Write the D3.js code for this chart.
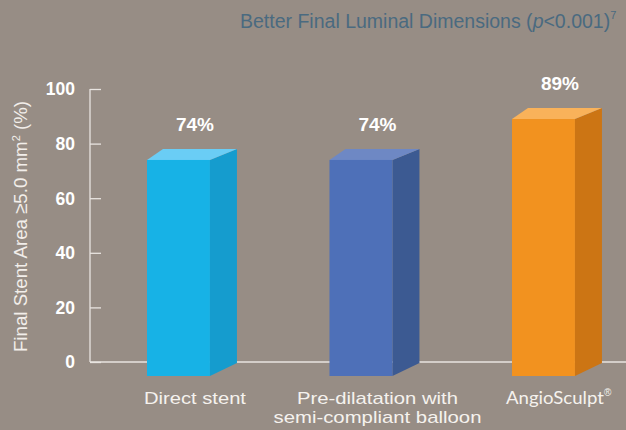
<!DOCTYPE html>
<html>
<head>
<meta charset="utf-8">
<script src="https://cdn.jsdelivr.net/npm/d3@7"></script>
<style>
  body { margin: 0; background: #978d85; }
  svg { display: block; font-family: "Liberation Sans", Arial, sans-serif; }
</style>
</head>
<body>
<svg width="626" height="430"></svg>
<script>
// chart data
var categories = ["Direct stent", "Pre-dilatation with\nsemi-compliant balloon", "AngioSculpt"];
var values = [74, 74, 89];
var valueLabels = ["74%", "74%", "89%"];
var yTicks = [0, 20, 40, 60, 80, 100];

var frontColors = ["#17b2e6", "#4e70b8", "#f2921f"];
var sideColors = ["#159cce", "#3c5a92", "#cc7514"];
var topColors = ["#6acdf5", "#6e88c4", "#f9b25a"];

// widths of the category label lines in the original artwork
var catLineWidths = [[102], [161, 208], [98]];

var svg = d3.select("svg");

var y = d3.scaleLinear().domain([0, 100]).range([362, 89]);
var x = d3.scaleBand().domain(d3.range(categories.length))
  .range([55.75, 666.2]).paddingInner(0.655).paddingOuter(0.5);

// title
var title = svg.append("text")
  .attr("x", 240).attr("y", 28)
  .attr("fill", "#4a6a80")
  .style("font-size", "19.5px");
title.append("tspan").text("Better Final Luminal Dimensions (");
title.append("tspan").style("font-style", "italic").text("p");
title.append("tspan").text("<0.001)");
title.append("tspan").attr("dy", -9).style("font-size", "11px").text("7");

// y axis
var axis = svg.append("g")
  .attr("transform", "translate(90,0)")
  .call(d3.axisRight(y).tickValues(yTicks).tickSize(11).tickFormat(""));
axis.select(".domain").remove();
axis.selectAll(".tick line").attr("stroke", "#e8e4e0").attr("stroke-width", 1.3);

svg.append("line")
  .attr("x1", 90).attr("x2", 90).attr("y1", y(100)).attr("y2", y(0))
  .attr("stroke", "#e8e4e0").attr("stroke-width", 1.3);
svg.append("line")
  .attr("x1", 90).attr("x2", 626).attr("y1", y(0)).attr("y2", y(0))
  .attr("stroke", "#e8e4e0").attr("stroke-width", 1.3);

svg.selectAll(".ytick").data(yTicks).enter().append("text")
  .attr("x", 75).attr("y", d => y(d)).attr("dy", "0.36em")
  .attr("text-anchor", "end")
  .attr("fill", "#ffffff").style("font-weight", "bold").style("font-size", "17.5px")
  .text(d => d);

// y title
var yt = svg.append("text")
  .attr("transform", "translate(27," + (y(50) + 1) + ") rotate(-90)")
  .attr("text-anchor", "middle")
  .attr("fill", "#f2eeea").style("font-size", "18.7px");
yt.append("tspan").text("Final Stent Area ≥5.0 mm");
yt.append("tspan").attr("dy", -7).style("font-size", "11px").text("2");
yt.append("tspan").attr("dy", 7).text(" (%)");

// bars (3D)
var depthX = 27, depthY = 11, backInset = 16, below = 14;
var bars = svg.selectAll(".bar").data(values).enter().append("g").attr("class", "bar");

bars.append("path")
  .attr("fill", (d, i) => sideColors[i])
  .attr("d", function(d, i) {
    var r = x(i) + x.bandwidth();
    return "M" + r + "," + y(d) + "L" + (r + depthX) + "," + (y(d) - depthY) +
      "L" + (r + depthX) + "," + (y(0) + 1) + "L" + r + "," + (y(0) + below) + "Z";
  });
bars.append("path")
  .attr("fill", (d, i) => topColors[i])
  .attr("d", function(d, i) {
    var l = x(i), r = x(i) + x.bandwidth();
    return "M" + l + "," + y(d) + "L" + r + "," + y(d) +
      "L" + (r + depthX) + "," + (y(d) - depthY) + "L" + (l + backInset) + "," + (y(d) - depthY) + "Z";
  });
bars.append("rect")
  .attr("fill", (d, i) => frontColors[i])
  .attr("x", (d, i) => x(i)).attr("width", x.bandwidth())
  .attr("y", d => y(d)).attr("height", d => y(0) + below - y(d));

bars.append("text")
  .attr("x", (d, i) => x(i) + x.bandwidth() / 2 + depthX / 2 + 3)
  .attr("y", d => y(d) - 29)
  .attr("text-anchor", "middle")
  .attr("fill", "#ffffff").style("font-weight", "bold").style("font-size", "19px")
  .text((d, i) => valueLabels[i]);

// category labels
svg.selectAll(".cat").data(categories).enter().append("text")
  .attr("x", (d, i) => x(i) + x.bandwidth() / 2 + depthX / 2 + (i === 2 ? -2 : 3))
  .attr("y", 404)
  .attr("text-anchor", "middle")
  .attr("fill", "#f5f2ee")
  .style("font-size", "17px")
  .style("font-family", (d, i) => i === 2 ? "Lato, sans-serif" : null)
  .each(function(d, i) {
    var lines = d.split("\n");
    var t = d3.select(this);
    lines.forEach(function(line, k) {
      t.append("tspan").attr("x", t.attr("x")).attr("dy", k === 0 ? 0 : 19)
        .attr("textLength", catLineWidths[i][k]).attr("lengthAdjust", "spacingAndGlyphs")
        .text(line);
    });
  });

// registered mark on the last label
svg.append("text")
  .attr("x", x(2) + x.bandwidth() / 2 + depthX / 2 + 47)
  .attr("y", 396)
  .attr("fill", "#f5f2ee")
  .style("font-size", "10px")
  .text("®");
</script>
</body>
</html>
